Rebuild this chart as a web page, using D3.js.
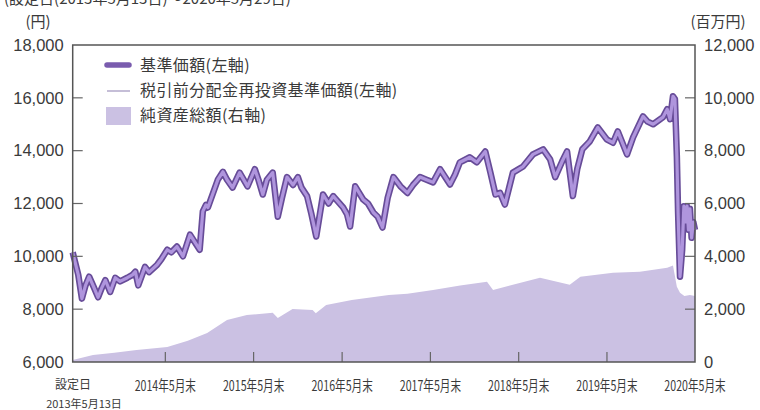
<!DOCTYPE html>
<html>
<head>
<meta charset="utf-8">
<script src="https://cdn.jsdelivr.net/npm/d3@7"></script>
<style>
  body { margin: 0; background: #fff; }
  svg text { fill: #3a3a3a; }
</style>
</head>
<body>
<div id="chart"></div>
<script>
"use strict"

//-----------------------------DATA-----------------------------//
// 基準価額 (円) — 税引前分配金再投資基準価額 is the same (no distributions)
const navSeries = [
    ["2013-05-13", 10150], ["2013-06-05", 9300], ["2013-06-20", 8400], ["2013-07-05", 8900],
    ["2013-07-20", 9230], ["2013-08-05", 8900], ["2013-08-26", 8450], ["2013-09-10", 8800],
    ["2013-09-25", 9100], ["2013-10-15", 8650], ["2013-11-05", 9190], ["2013-11-25", 9050],
    ["2013-12-25", 9190], ["2014-01-15", 9300], ["2014-01-27", 9420], ["2014-02-08", 8900],
    ["2014-03-08", 9600], ["2014-03-25", 9400], ["2014-04-27", 9680], ["2014-05-15", 9900],
    ["2014-06-08", 10250], ["2014-06-25", 10150], ["2014-07-18", 10370], ["2014-08-12", 10000],
    ["2014-09-10", 10820], ["2014-10-20", 10250], ["2014-11-02", 11700], ["2014-11-15", 11950],
    ["2014-11-23", 11850], ["2015-01-03", 12900], ["2015-01-24", 13200], ["2015-02-10", 12900],
    ["2015-03-05", 12600], ["2015-04-03", 13170], ["2015-05-06", 12650], ["2015-06-05", 13300],
    ["2015-06-20", 12900], ["2015-07-08", 12340], ["2015-07-25", 12900], ["2015-08-18", 13170],
    ["2015-09-08", 11500], ["2015-09-25", 12200], ["2015-10-16", 13000], ["2015-11-10", 12700],
    ["2015-11-30", 13000], ["2015-12-15", 12600], ["2016-01-07", 12280], ["2016-01-25", 11600],
    ["2016-02-14", 10750], ["2016-03-13", 12340], ["2016-04-05", 12000], ["2016-04-24", 12280],
    ["2016-06-04", 11850], ["2016-06-20", 11600], ["2016-07-03", 11130], ["2016-07-24", 12650],
    ["2016-08-26", 12150], ["2016-09-15", 12000], ["2016-10-07", 11660], ["2016-10-25", 11500],
    ["2016-11-14", 11090], ["2016-12-05", 12200], ["2016-12-29", 13000], ["2017-01-27", 12650],
    ["2017-02-25", 12400], ["2017-03-20", 12700], ["2017-04-18", 13000], ["2017-05-15", 12900],
    ["2017-06-11", 12800], ["2017-07-10", 13300], ["2017-08-20", 12720], ["2017-09-10", 13100],
    ["2017-09-30", 13560], ["2017-11-10", 13750], ["2017-12-09", 13560], ["2018-01-13", 13970],
    ["2018-02-03", 13170], ["2018-02-24", 12340], ["2018-03-15", 12400], ["2018-04-04", 11960],
    ["2018-05-07", 13170], ["2018-06-18", 13400], ["2018-07-29", 13860], ["2018-09-09", 14050],
    ["2018-10-08", 13670], ["2018-10-29", 13000], ["2018-11-27", 13600], ["2018-12-17", 13970],
    ["2019-01-10", 12280], ["2019-01-28", 13300], ["2019-02-18", 14050], ["2019-03-21", 14350],
    ["2019-04-23", 14880], ["2019-05-30", 14430], ["2019-06-25", 14300], ["2019-07-15", 14730],
    ["2019-08-22", 13860], ["2019-09-16", 14500], ["2019-10-27", 15300], ["2019-11-15", 15100],
    ["2019-12-08", 15000], ["2020-01-18", 15270], ["2020-02-04", 15570], ["2020-02-16", 15190],
    ["2020-02-28", 16060], ["2020-03-07", 15950], ["2020-03-15", 13780], ["2020-03-20", 11660],
    ["2020-03-28", 9230], ["2020-04-06", 10250], ["2020-04-13", 11900], ["2020-04-20", 11300],
    ["2020-04-26", 11900], ["2020-05-02", 11000], ["2020-05-08", 11800], ["2020-05-15", 10700],
    ["2020-05-22", 11300], ["2020-05-29", 11000]
];
const reinvestedSeries = navSeries;

// 純資産総額 (百万円)
const assetSeries = [
    ["2013-05-13", 80], ["2013-08-05", 265], ["2013-11-01", 350], ["2014-02-01", 450],
    ["2014-06-08", 570], ["2014-09-01", 800], ["2014-11-20", 1100], ["2015-02-10", 1590],
    ["2015-05-03", 1780], ["2015-08-18", 1860], ["2015-09-08", 1670], ["2015-11-08", 2010],
    ["2016-01-30", 1970], ["2016-02-12", 1850], ["2016-03-26", 2160], ["2016-07-10", 2350],
    ["2016-12-10", 2540], ["2017-02-25", 2580], ["2017-06-11", 2730], ["2017-10-01", 2900],
    ["2018-01-20", 3040], ["2018-02-14", 2730], ["2018-08-27", 3190], ["2018-12-28", 2920],
    ["2019-02-10", 3230], ["2019-06-25", 3380], ["2019-10-14", 3420], ["2020-02-04", 3570],
    ["2020-02-28", 3650], ["2020-03-15", 2850], ["2020-03-28", 2620], ["2020-04-15", 2500],
    ["2020-05-08", 2540], ["2020-05-29", 2500]
];

const leftTicks = [6000, 8000, 10000, 12000, 14000, 16000, 18000];
const rightTicks = [0, 2000, 4000, 6000, 8000, 10000, 12000];
const xTickDates = ["2014-05-31", "2015-05-31", "2016-05-31", "2017-05-31", "2018-05-31", "2019-05-31", "2020-05-31"];
const xTickLabels = ["2014年5月末", "2015年5月末", "2016年5月末", "2017年5月末", "2018年5月末", "2019年5月末", "2020年5月末"];
const legendLabels = ["基準価額(左軸)", "税引前分配金再投資基準価額(左軸)", "純資産総額(右軸)"];

//------------------------1. PREPARATION------------------------//
const width = 760;
const height = 410;
const plotLeft = 72.7, plotRight = 695, plotTop = 45, plotBottom = 362;
const parse = d3.timeParse("%Y-%m-%d");
const jp = "'Noto Sans CJK JP', 'Noto Sans', sans-serif";
const num = "'Liberation Sans', Arial, sans-serif";

const svg = d3.select("#chart").append("svg")
    .attr("width", width)
    .attr("height", height);

const xScale = d3.scaleTime()
    .domain([parse("2013-05-13"), parse("2020-05-29")])
    .range([plotLeft, plotRight]);
const yLeft = d3.scaleLinear().domain([6000, 18000]).range([plotBottom, plotTop]);
const yRight = d3.scaleLinear().domain([0, 12000]).range([plotBottom, plotTop]);

//-------------------------2. DRAWING---------------------------//
// title line, cut at the top of the picture (as in the source)
svg.append("text")
    .attr("x", 4).attr("y", 4)
    .style("font-family", jp).style("font-size", "15px")
    .text("(設定日(2013年5月13日)～2020年5月29日)");

// net assets area
const area = d3.area()
    .x(d => xScale(parse(d[0])))
    .y0(yRight(0))
    .y1(d => yRight(d[1]));
svg.append("path")
    .datum(assetSeries)
    .attr("fill", "#cbc1e3")
    .attr("d", area);

// NAV lines
const lineL = d3.line()
    .x(d => xScale(parse(d[0])))
    .y(d => yLeft(d[1]));
svg.append("path")
    .datum(navSeries)
    .attr("fill", "none")
    .attr("stroke", "#674c98")
    .attr("stroke-width", 6.5)
    .attr("stroke-linejoin", "round")
    .attr("d", lineL);
svg.append("path")
    .datum(reinvestedSeries)
    .attr("fill", "none")
    .attr("stroke", "#af95dd")
    .attr("stroke-width", 3.2)
    .attr("stroke-linejoin", "round")
    .attr("d", lineL);

//-----------------------------AXES-----------------------------//
const yaxisL = d3.axisLeft(yLeft).tickValues(leftTicks).tickSize(0).tickPadding(9)
    .tickFormat(d3.format(","));
const yaxisR = d3.axisRight(yRight).tickValues(rightTicks).tickSize(0).tickPadding(9)
    .tickFormat(d3.format(","));

const gl = svg.append("g").attr("transform", `translate(${plotLeft},0)`).call(yaxisL);
const gr = svg.append("g").attr("transform", `translate(${plotRight},0)`).call(yaxisR);
[gl, gr].forEach(g => {
    g.select(".domain").remove();
    g.selectAll("text").style("font-family", num).style("font-size", "16.5px").attr("fill", "#3a3a3a");
});

// inner ticks
svg.append("g").selectAll("line")
    .data(leftTicks.slice(1, -1))
    .join("line")
    .attr("x1", plotLeft).attr("x2", plotLeft + 10)
    .attr("y1", d => yLeft(d)).attr("y2", d => yLeft(d))
    .attr("stroke", "#666").attr("stroke-width", 1.2);
svg.append("g").selectAll("line")
    .data(rightTicks.slice(1, -1))
    .join("line")
    .attr("x1", plotRight - 10).attr("x2", plotRight)
    .attr("y1", d => yRight(d)).attr("y2", d => yRight(d))
    .attr("stroke", "#666").attr("stroke-width", 1.2);
svg.append("g").selectAll("line")
    .data(xTickDates.slice(0, -1))
    .join("line")
    .attr("x1", d => xScale(parse(d))).attr("x2", d => xScale(parse(d)))
    .attr("y1", plotBottom).attr("y2", plotBottom - 10)
    .attr("stroke", "#666").attr("stroke-width", 1.2);

// frame
svg.append("rect")
    .attr("x", plotLeft).attr("y", plotTop)
    .attr("width", plotRight - plotLeft).attr("height", plotBottom - plotTop)
    .attr("fill", "none").attr("stroke", "#555").attr("stroke-width", 1.5);

// x labels
const xLab = d => Math.min(xScale(parse(d)), plotRight);
svg.append("g").selectAll("text")
    .data(xTickDates)
    .join("text")
    .attr("x", xLab)
    .attr("y", 391)
    .attr("text-anchor", "middle")
    .style("font-family", jp).style("font-size", "12.5px")
    .attr("transform", d => `translate(${xLab(d)},391) scale(0.85,1.15) translate(${-xLab(d)},-391)`)
    .text((d, i) => xTickLabels[i]);

svg.append("text")
    .attr("x", 73).attr("y", 389).attr("text-anchor", "middle")
    .style("font-family", jp).style("font-size", "12px")
    .text("設定日");
svg.append("text")
    .attr("x", 84).attr("y", 408).attr("text-anchor", "middle")
    .style("font-family", jp).style("font-size", "11px")
    .text("2013年5月13日");

// unit labels
svg.append("text")
    .attr("x", 38).attr("y", 27).attr("text-anchor", "middle")
    .style("font-family", jp).style("font-size", "15px")
    .text("(円)");
svg.append("text")
    .attr("x", 718).attr("y", 27).attr("text-anchor", "middle")
    .style("font-family", jp).style("font-size", "15px")
    .text("(百万円)");

//----------------------------LEGEND----------------------------//
const lg = svg.append("g").attr("transform", "translate(106,0)");
lg.append("line")
    .attr("x1", 1).attr("x2", 23).attr("y1", 65).attr("y2", 65)
    .attr("stroke", "#7a5cae").attr("stroke-width", 5.5).attr("stroke-linecap", "round");
lg.append("line")
    .attr("x1", 1).attr("x2", 24).attr("y1", 91).attr("y2", 91)
    .attr("stroke", "#b7aece").attr("stroke-width", 1.6);
lg.append("rect")
    .attr("x", 0).attr("y", 107).attr("width", 25).attr("height", 18)
    .attr("fill", "#cbc1e3");
lg.selectAll("text.leg")
    .data(legendLabels)
    .join("text")
    .attr("class", "leg")
    .attr("x", 34)
    .attr("y", (d, i) => 71 + i * 25)
    .style("font-family", jp).style("font-size", "16px")
    .style("letter-spacing", "0.4px")
    .text(d => d);
</script>
</body>
</html>
